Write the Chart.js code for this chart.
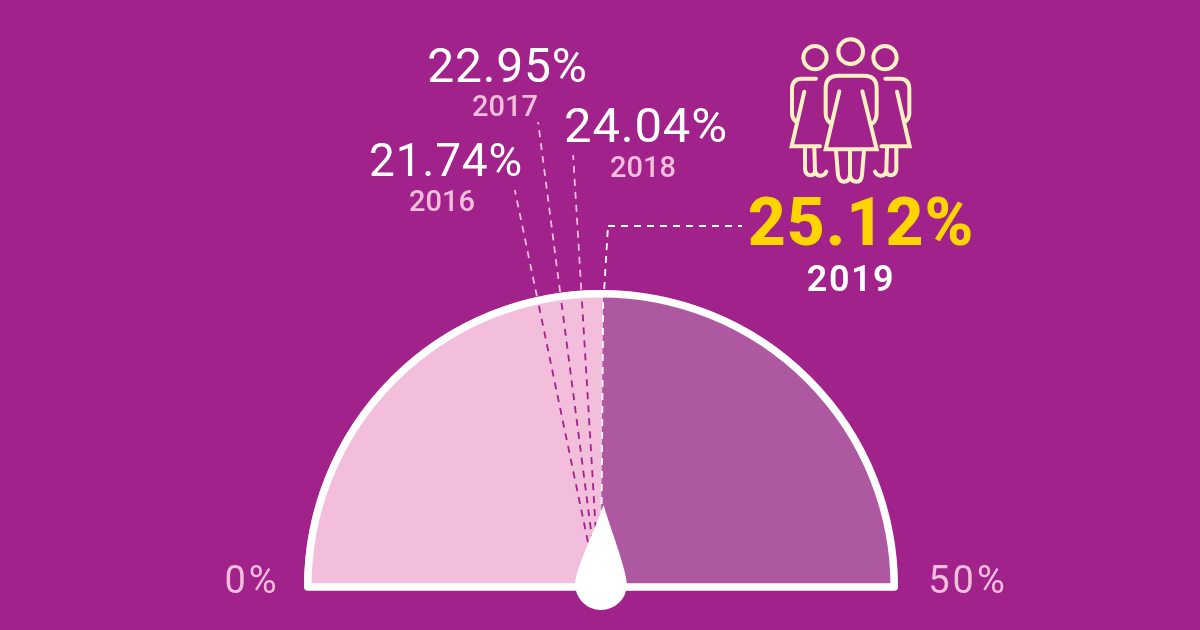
<!DOCTYPE html>
<html>
<head>
<meta charset="utf-8">
<style>
  html, body { margin: 0; padding: 0; background: #a0228a; }
  canvas { display: block; }
</style>
<script src="https://cdn.jsdelivr.net/npm/chart.js@4/dist/chart.umd.min.js"></script>
</head>
<body>
<canvas id="gaugeChart" width="1200" height="630"></canvas>
<script>
// data
const years = ['2016', '2017', '2018', '2019'];
const values = [21.74, 22.95, 24.04, 25.12];
const gaugeMin = 0;
const gaugeMax = 50;
const minLabel = '0%';
const maxLabel = '50%';

// colours
const background = '#a0228a';
const filled = '#f3bedb';
const rest = '#ae58a2';
const pale = '#f3bedb';
const yellow = '#ffd500';
const cream = '#fff1c1';

const current = values[values.length - 1];

// where each year's text goes: [value x, value baseline, value size, year x, year baseline, leader end y]
const labelPlaces = [
  [446, 176, 46, 442, 211, 190],
  [507.5, 82, 48, 505, 116, 122],
  [646, 142, 49, 643, 177, 155]
];

function valueAngle(v) {
  return -Math.PI + (v - gaugeMin) / (gaugeMax - gaugeMin) * Math.PI;
}

function text(ctx, str, x, y, weight, size, color, spacing) {
  ctx.font = weight + ' ' + size + 'px Roboto';
  ctx.letterSpacing = (spacing || 0) + 'px';
  ctx.fillStyle = color;
  ctx.fillText(str, x, y);
}

function dashedLine(ctx, x1, y1, x2, y2, color) {
  ctx.strokeStyle = color;
  ctx.lineWidth = 1.8;
  ctx.setLineDash([7, 6]);
  ctx.beginPath();
  ctx.moveTo(x1, y1);
  ctx.lineTo(x2, y2);
  ctx.stroke();
  ctx.setLineDash([]);
}

function drawPeople(ctx) {
  // icon traced at 3x from the top left of its box
  ctx.save();
  ctx.translate(760, 30);
  ctx.scale(1 / 3, 1 / 3);
  ctx.strokeStyle = cream;
  ctx.lineWidth = 12;
  ctx.lineCap = 'round';
  ctx.lineJoin = 'miter';

  const heads = [[165, 83, 35], [272, 65, 37], [375, 83, 35]];
  heads.forEach(h => {
    ctx.beginPath();
    ctx.arc(h[0], h[1], h[2], 0, Math.PI * 2);
    ctx.stroke();
  });

  // middle figure
  ctx.beginPath();
  ctx.moveTo(212, 280);
  ctx.quadraticCurveTo(197, 270, 197, 250);
  ctx.lineTo(197, 175);
  ctx.quadraticCurveTo(197, 137, 235, 137);
  ctx.lineTo(312, 137);
  ctx.quadraticCurveTo(350, 137, 350, 175);
  ctx.lineTo(350, 250);
  ctx.quadraticCurveTo(350, 270, 338, 280);
  ctx.moveTo(238, 184);
  ctx.lineTo(197, 358);
  ctx.lineTo(350, 358);
  ctx.lineTo(307, 184);
  ctx.moveTo(228, 362);
  ctx.lineTo(234, 435);
  ctx.quadraticCurveTo(238, 455, 252, 455);
  ctx.quadraticCurveTo(268, 455, 270, 435);
  ctx.lineTo(270, 362);
  ctx.moveTo(270, 435);
  ctx.quadraticCurveTo(272, 455, 290, 455);
  ctx.quadraticCurveTo(304, 455, 306, 435);
  ctx.lineTo(312, 362);
  ctx.stroke();

  // side figures, the right one is a mirror of the left
  [0, 1].forEach(side => {
    ctx.save();
    if (side) {
      ctx.translate(544, 0);
      ctx.scale(-1, 1);
    }
    ctx.beginPath();
    ctx.moveTo(168, 146);
    ctx.lineTo(125, 146);
    ctx.quadraticCurveTo(96, 146, 96, 178);
    ctx.lineTo(96, 250);
    ctx.quadraticCurveTo(96, 265, 108, 275);
    ctx.moveTo(133, 185);
    ctx.lineTo(95, 349);
    ctx.lineTo(180, 349);
    ctx.moveTo(135, 355);
    ctx.lineTo(135, 418);
    ctx.quadraticCurveTo(137, 436, 152, 436);
    ctx.quadraticCurveTo(165, 436, 165, 420);
    ctx.lineTo(163, 355);
    ctx.moveTo(165, 420);
    ctx.quadraticCurveTo(167, 438, 183, 437);
    ctx.quadraticCurveTo(195, 436, 199, 425);
    ctx.stroke();
    ctx.restore();
  });
  ctx.restore();
}

function drawNeedle(ctx, arc, v) {
  ctx.save();
  ctx.translate(arc.x, arc.y);
  ctx.rotate(valueAngle(v) + Math.PI / 2);
  ctx.fillStyle = '#ffffff';
  ctx.beginPath();
  ctx.moveTo(2, -82);
  ctx.bezierCurveTo(-6, -58, -24, -22, -26, -4);
  ctx.arc(0, -3, 26, Math.PI, 0, true);
  ctx.bezierCurveTo(24, -22, 9, -58, 2, -82);
  ctx.closePath();
  ctx.fill();
  ctx.restore();
}

const gaugeExtras = {
  id: 'gaugeExtras',
  afterDatasetsDraw(chart) {
    const { ctx } = chart;
    const arc = chart.getDatasetMeta(0).data[0];
    const r = arc.outerRadius;
    // the leaders fan out from just under the dial centre
    const pivotX = arc.x - 1;
    const pivotY = arc.y + 13;
    ctx.save();

    // leader lines, dark inside the dial and pale above it
    labelPlaces.forEach((place, i) => {
      const a = valueAngle(values[i]);
      const t = Math.tan(a + Math.PI / 2);
      const xAt = y => pivotX + (pivotY - y) * t;
      const topY = arc.y - Math.sqrt(r * r - Math.pow(xAt(arc.y - r) - arc.x, 2));
      dashedLine(ctx, xAt(arc.y - 45), arc.y - 45, xAt(topY + 6), topY + 6, background);
      dashedLine(ctx, xAt(topY - 1), topY - 1, xAt(place[5]), place[5], pale);
    });

    // 2019 line with its elbow over to the big number
    const a = valueAngle(current);
    const topX = arc.x + Math.cos(a) * r;
    const topY = arc.y + Math.sin(a) * r;
    dashedLine(ctx, arc.x + Math.cos(a) * 70, arc.y + Math.sin(a) * 70, topX, topY + 6, '#ffffff');
    dashedLine(ctx, topX + 1, topY - 1, 608, 226, '#ffffff');
    dashedLine(ctx, 608, 226, 742, 226, '#ffffff');

    // dial outline
    ctx.strokeStyle = '#ffffff';
    ctx.lineWidth = 7.5;
    ctx.lineJoin = 'round';
    ctx.beginPath();
    ctx.arc(arc.x, arc.y, r - 3.75, Math.PI, 0);
    ctx.closePath();
    ctx.stroke();

    drawNeedle(ctx, arc, current);

    // text
    ctx.textAlign = 'center';
    ctx.textBaseline = 'alphabetic';
    labelPlaces.forEach((place, i) => {
      text(ctx, values[i].toFixed(2) + '%', place[0], place[1], 400, place[2], '#ffffff', 0.8);
      text(ctx, years[i], place[3], place[4], 500, 29, pale, 0);
    });

    text(ctx, current.toFixed(2) + '%', 861, 245, 800, 66, yellow, 1);
    text(ctx, years[3], 851, 291, 600, 36, '#ffffff', 1.5);

    text(ctx, minLabel, 252, 593, 400, 38, pale, 3);
    text(ctx, maxLabel, 968, 593, 400, 38, pale, 3);

    drawPeople(ctx);
    ctx.restore();
  }
};

new Chart(document.getElementById('gaugeChart').getContext('2d'), {
  type: 'doughnut',
  data: {
    labels: ['value', 'rest'],
    datasets: [{
      data: [current - gaugeMin, gaugeMax - current],
      backgroundColor: [filled, rest],
      borderWidth: 0
    }]
  },
  options: {
    responsive: false,
    animation: false,
    rotation: -90,
    circumference: 180,
    cutout: 0,
    layout: { padding: { left: 304, right: 302, top: 290, bottom: 43 } },
    plugins: {
      legend: { display: false },
      tooltip: { enabled: false }
    }
  },
  plugins: [gaugeExtras]
});
</script>
</body>
</html>
